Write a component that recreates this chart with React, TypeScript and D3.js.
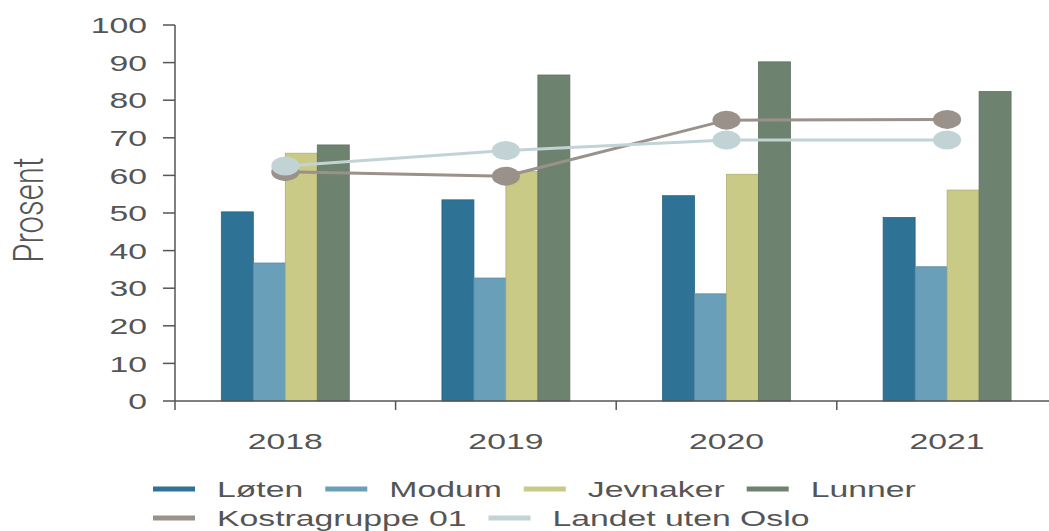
import React, { useEffect, useRef } from 'react';
import * as d3 from 'd3';

const years = ['2018', '2019', '2020', '2021'];
const barSeries = ['Løten', 'Modum', 'Jevnaker', 'Lunner'];
const loten = [50.3, 53.5, 54.6, 48.8];
const modum = [36.7, 32.7, 28.5, 35.7];
const jevnaker = [65.9, 61.0, 60.3, 56.1];
const lunner = [68.1, 86.7, 90.2, 82.3];
const kostra = [61.0, 59.8, 74.7, 74.9];
const landet = [62.5, 66.6, 69.4, 69.4];
const yTicks = [0, 10, 20, 30, 40, 50, 60, 70, 80, 90, 100];

const barColors = ['#2e7396', '#6a9fba', '#c9ca86', '#6e836f'];
const lineColors = ['#9a918a', '#c2d3d6'];

const W = 1049;
const H = 531;
const SX = 1.5; // horizontal stretch seen in the picture
const FONT = '"Liberation Sans", Arial, sans-serif';

const App: React.FC = () => {
  const ref = useRef<SVGSVGElement>(null);

  useEffect(() => {
    if (!ref.current) return;
    const svg = d3.select(ref.current);
    svg.selectAll('*').remove();

    const left = 175;
    const band = 220.6;
    const y0 = 401;
    const y100 = 25;

    const x0 = d3.scaleBand<string>().domain(years).range([left, left + band * years.length]);
    const x1 = d3.scaleBand<string>().domain(barSeries).range([band * 0.21, band * 0.79]);
    const y = d3.scaleLinear().domain([0, 100]).range([y0, y100]);

    const barValues = [loten, modum, jevnaker, lunner];

    // bars
    years.forEach((yr, i) => {
      barSeries.forEach((s, j) => {
        const v = barValues[j][i];
        svg.append('rect')
          .attr('x', (x0(yr) as number) + (x1(s) as number))
          .attr('y', y(v))
          .attr('width', x1.bandwidth())
          .attr('height', y(0) - y(v))
          .attr('fill', barColors[j])
          .attr('stroke', d3.color(barColors[j])!.darker(0.4).toString())
          .attr('stroke-width', 0.8);
      });
    });

    // axes
    const axisColor = '#555';
    svg.append('line')
      .attr('x1', left).attr('x2', W).attr('y1', y0).attr('y2', y0)
      .attr('stroke', axisColor).attr('stroke-width', 1.5);
    svg.append('line')
      .attr('x1', left).attr('x2', left).attr('y1', y100).attr('y2', y0 + 9)
      .attr('stroke', axisColor).attr('stroke-width', 1.5);

    yTicks.forEach(t => {
      svg.append('line')
        .attr('x1', left - 12).attr('x2', left).attr('y1', y(t)).attr('y2', y(t))
        .attr('stroke', axisColor).attr('stroke-width', 1.5);
      svg.append('text')
        .attr('transform', `translate(147,${y(t)}) scale(${SX},1)`)
        .attr('dy', '0.36em')
        .attr('text-anchor', 'end')
        .attr('font-family', FONT)
        .attr('font-size', 22.5)
        .attr('fill', '#555')
        .text(t);
    });

    years.forEach((yr, i) => {
      const xs = (x0(yr) as number) + band;
      svg.append('line')
        .attr('x1', xs).attr('x2', xs).attr('y1', y0).attr('y2', y0 + 9)
        .attr('stroke', axisColor).attr('stroke-width', 1.5);
      svg.append('text')
        .attr('transform', `translate(${(x0(yr) as number) + band / 2},449) scale(${SX},1)`)
        .attr('text-anchor', 'middle')
        .attr('font-family', FONT)
        .attr('font-size', 22.5)
        .attr('fill', '#555')
        .text(yr);
    });

    // y label
    svg.append('text')
      .attr('transform', `translate(43,210) scale(1.4,1) rotate(-90)`)
      .attr('text-anchor', 'middle')
      .attr('font-family', 'Roboto, sans-serif')
      .attr('font-weight', 300)
      .attr('font-size', 31)
      .attr('fill', '#555')
      .text('Prosent');

    // lines
    const cx = (i: number) => (x0(years[i]) as number) + band / 2;
    [kostra, landet].forEach((vals, k) => {
      const line = d3.line<number>().x((_, i) => cx(i)).y(d => y(d));
      svg.append('path')
        .attr('d', line(vals)!)
        .attr('fill', 'none')
        .attr('stroke', lineColors[k])
        .attr('stroke-width', 3);
      vals.forEach((v, i) => {
        svg.append('ellipse')
          .attr('cx', cx(i)).attr('cy', y(v))
          .attr('rx', 14).attr('ry', 9.5)
          .attr('fill', lineColors[k]);
      });
    });

    // legend
    const rows = [
      { items: barSeries, colors: barColors, y: 489 },
      { items: ['Kostragruppe 01', 'Landet uten Oslo'], colors: lineColors, y: 518 },
    ];
    rows.forEach(row => {
      let lx = 153;
      row.items.forEach((name, i) => {
        svg.append('line')
          .attr('x1', lx).attr('x2', lx + 42).attr('y1', row.y).attr('y2', row.y)
          .attr('stroke', row.colors[i]).attr('stroke-width', 5);
        lx += 42 + 22;
        const t = svg.append('text')
          .attr('transform', `translate(${lx},${row.y}) scale(${SX},1)`)
          .attr('dy', '0.36em')
          .attr('font-family', FONT)
          .attr('font-size', 22.5)
          .attr('fill', '#555')
          .text(name);
        const w = (t.node() as SVGTextElement).getComputedTextLength() * SX;
        lx += w + 22;
      });
    });
  }, []);

  return (
    <svg
      ref={ref}
      width={W}
      height={H}
      style={{ position: 'absolute', left: 0, top: 0, background: '#fff' }}
    />
  );
};

export default App;
